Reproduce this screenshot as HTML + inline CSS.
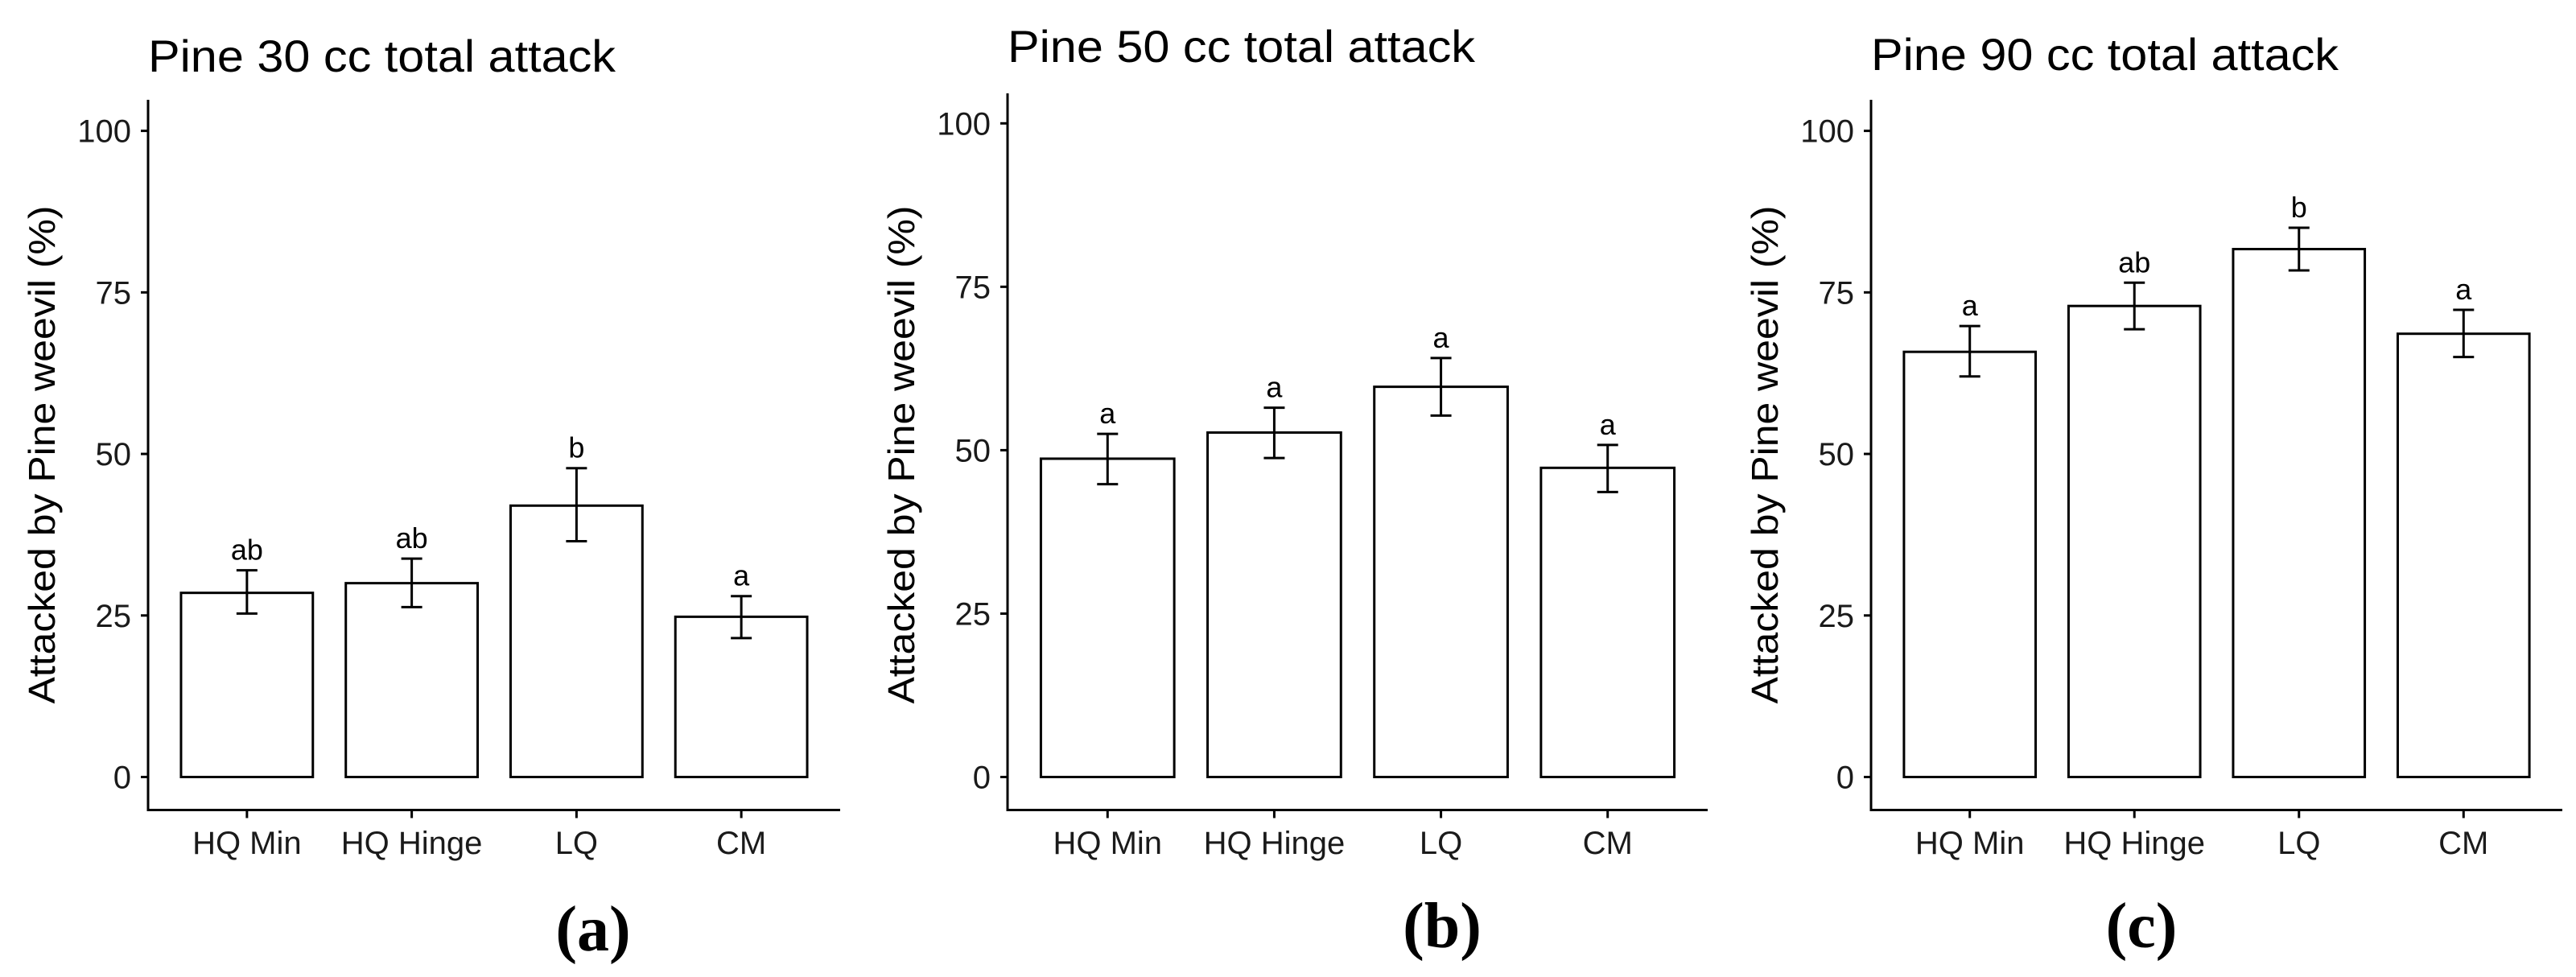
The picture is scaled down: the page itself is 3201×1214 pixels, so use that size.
<!DOCTYPE html>
<html><head><meta charset="utf-8"><style>
html,body{margin:0;padding:0;background:#fff;}
svg{display:block;font-family:"Liberation Sans",Arial,sans-serif;}
</style></head><body>
<svg id="fig" width="3201" height="1214" viewBox="0 0 3201 1214"></svg>
<script>
const categories = ["HQ Min","HQ Hinge","LQ","CM"];
const titles = ["Pine 30 cc total attack","Pine 50 cc total attack","Pine 90 cc total attack"];
const panelLabels = ["(a)","(b)","(c)"];
const meansA = [28.5,30,42,24.8];
const lowA = [25.3,26.3,36.5,21.5];
const highA = [32,33.8,47.8,28];
const lettersA = ["ab","ab","b","a"];
const meansB = [48.7,52.7,59.7,47.3];
const lowB = [44.8,48.8,55.3,43.6];
const highB = [52.5,56.5,64.1,50.8];
const lettersB = ["a","a","a","a"];
const meansC = [65.8,72.9,81.7,68.6];
const lowC = [62,69.3,78.4,65];
const highC = [69.8,76.5,85,72.3];
const lettersC = ["a","ab","b","a"];
const yTicks = [0,25,50,75,100];

const svg = document.getElementById('fig');
const NS = 'http://www.w3.org/2000/svg';
function mk(tag, attrs, parent, text){
  const e = document.createElementNS(NS, tag);
  for (const k in attrs) e.setAttribute(k, attrs[k]);
  if (text !== undefined) e.textContent = text;
  parent.appendChild(e);
  return e;
}
const panels = [
  {ax:184, right:1044, y0:965.5, y100:162.6, top:124, bottom:1006.5, titleY:89, labX:737, labY:1181, means:meansA, low:lowA, high:highA, letters:lettersA},
  {ax:1252, right:2122, y0:965.5, y100:153.3, top:116, bottom:1006.5, titleY:77, labX:1792, labY:1177, means:meansB, low:lowB, high:highB, letters:lettersB},
  {ax:2325, right:3184, y0:965.5, y100:162.6, top:124, bottom:1006.5, titleY:87, labX:2661, labY:1177, means:meansC, low:lowC, high:highC, letters:lettersC}
];
panels.forEach((p, pi) => {
  const g = mk('g', {}, svg);
  
  
  const y = v => p.y0 + (p.y100 - p.y0) * v / 100;
  const unit = (p.right - p.ax) / 4.2;
  const xc = i => p.ax + (i + 0.6) * unit;
  const bw = unit * 0.8;
  const t = mk('text', {x:p.ax, y:p.titleY, 'font-size':56, fill:'#000', textLength:581, lengthAdjust:'spacingAndGlyphs'}, g, titles[pi]);
  
  
  categories.forEach((c, i) => {
    const r = mk('rect', {x:xc(i)-bw/2, y:y(p.means[i]), width:bw, height:y(0)-y(p.means[i]), fill:'#fff', stroke:'#000', 'stroke-width':3}, g);
    
    
    const eb = mk('path', {d:`M${xc(i)-13},${y(p.high[i])}H${xc(i)+13}M${xc(i)},${y(p.high[i])}V${y(p.low[i])}M${xc(i)-13},${y(p.low[i])}H${xc(i)+13}`, stroke:'#000', 'stroke-width':3, fill:'none'}, g);
    
    
    const lt = mk('text', {x:xc(i), y:y(p.high[i])-13, 'font-size':36, 'text-anchor':'middle', fill:'#000'}, g, p.letters[i]);
    
    
    const tk = mk('line', {x1:xc(i), x2:xc(i), y1:p.bottom, y2:p.bottom+10, stroke:'#000', 'stroke-width':3}, g);
    
    
    const xl = mk('text', {x:xc(i), y:1061, 'font-size':40, 'text-anchor':'middle', fill:'#1a1a1a'}, g, c);
    
    
  });
  yTicks.forEach(v => {
    const tk = mk('line', {x1:p.ax-9, x2:p.ax, y1:y(v), y2:y(v), stroke:'#000', 'stroke-width':3}, g);
    
    
    const tl = mk('text', {x:p.ax-21, y:y(v)+14, 'font-size':40, 'text-anchor':'end', fill:'#1a1a1a'}, g, String(v));
    
    
  });
  const axes = mk('path', {d:`M${p.ax},${p.top}V${p.bottom}H${p.right}`, stroke:'#000', 'stroke-width':3, fill:'none'}, g);
  
  
  const cy = 565, cx = p.ax - 116;
  const yt = mk('text', {x:cx, y:cy, 'font-size':46, 'text-anchor':'middle', fill:'#000', transform:`rotate(-90 ${cx} ${cy})`, textLength:619, lengthAdjust:'spacingAndGlyphs'}, g, 'Attacked by Pine weevil (%)');
  
  
  const pl = mk('text', {x:p.labX, y:p.labY, 'font-size':80, 'font-weight':'bold', 'text-anchor':'middle', 'font-family':'"Liberation Serif",serif', fill:'#000'}, g, panelLabels[pi]);
  
  
});
</script>
</body></html>
